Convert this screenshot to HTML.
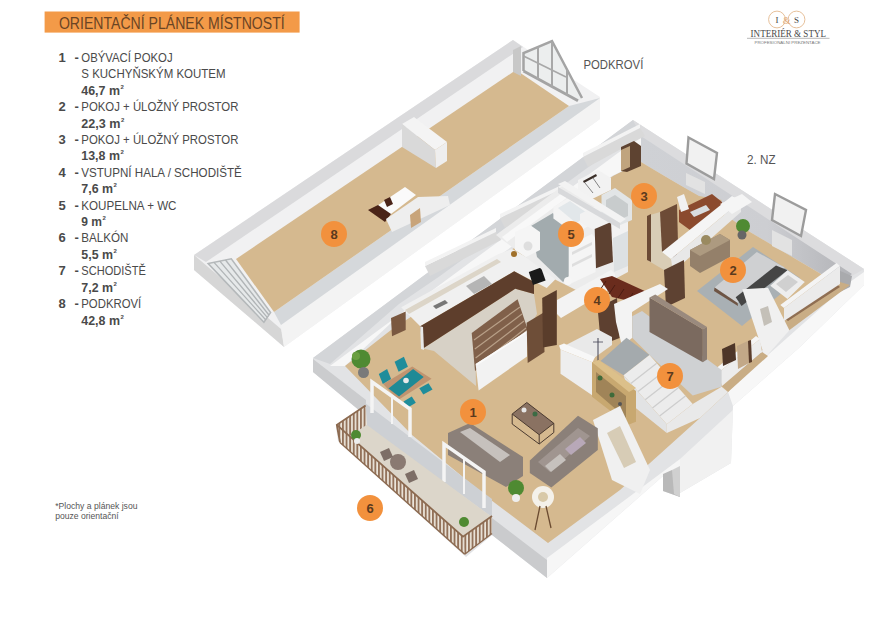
<!DOCTYPE html>
<html><head><meta charset="utf-8"><style>
html,body{margin:0;padding:0;background:#fff;width:894px;height:625px;overflow:hidden}
svg{display:block;font-family:"Liberation Sans",sans-serif}
</style></head><body>
<svg width="894" height="625" viewBox="0 0 894 625">
<rect width="894" height="625" fill="#fff"/>
<polygon points="194,255 513,40 600,97 600,119 284,347 194,270" fill="#f1f1f2" />
<polygon points="194,255 281,329 284,347 194,270" fill="#d6d6d6" />
<polygon points="194,255 513,40 523,47 206,262" fill="#dadadc" />
<polygon points="281,325 600,98 600,119 284,347" fill="#f3f3f3" />
<polygon points="274,312 569,106 600,98 281,325" fill="#d5d8db" />
<polygon points="236,259 516,70 569,106 274,312" fill="#d5b98f" />
<polygon points="208.2,263.6 231.3,258.8 270.6,312.6 263.9,322.2" fill="#e6e9ea" />
<polygon points="208.2,263.6 231.3,258.8 270.6,312.6 263.9,322.2" fill="none" stroke="#b4b8ba" stroke-width="1.5"/>
<line x1="214.0" y1="262.4" x2="265.6" y2="319.8" stroke="#b0b4b6" stroke-width="1.3"/>
<line x1="219.8" y1="261.2" x2="267.2" y2="317.4" stroke="#b0b4b6" stroke-width="1.3"/>
<line x1="225.5" y1="260.0" x2="268.9" y2="315.0" stroke="#b0b4b6" stroke-width="1.3"/>
<polygon points="513,50 521,46 521,76 513,72" fill="#c8c8c8" />
<polygon points="523,53 552,41 582,98 578,101 523,71" fill="#eceeee" />
<polyline points="523.5,71 523.5,53 552,41 582,98" fill="none" stroke="#a4a4a4" stroke-width="2.5"/>
<line x1="523.5" y1="71" x2="578" y2="100.7" stroke="#a4a4a4" stroke-width="3"/>
<line x1="523.5" y1="56" x2="566" y2="77" stroke="#a8a8a8" stroke-width="1.6"/>
<line x1="538" y1="47" x2="538" y2="78.9" stroke="#a8a8a8" stroke-width="2"/>
<line x1="552" y1="42" x2="552" y2="86.5" stroke="#a8a8a8" stroke-width="2"/>
<line x1="567" y1="70" x2="567" y2="94.7" stroke="#a8a8a8" stroke-width="2"/>
<polygon points="402,124 414,117 447,142 435,150" fill="#f4f4f4" />
<polygon points="402,124 435,150 436,168 402,147" fill="#d9d9d9" />
<polygon points="435,150 447,142 447,161 436,168" fill="#eeeeee" />
<polygon points="374,208 405,187 416,195 387,217" fill="#fafafa" />
<polygon points="368,210 378,205 391,214 385,222" fill="#4a2418" />
<polygon points="384,200 390,197 393,204 387,207" fill="#4a2418" />
<polygon points="386,219 418,197 448,196 450,205 392,232" fill="#eeeeee" />
<polygon points="410,215 420,208 421,222 411,228" fill="#c8a47a" />
<polygon points="313,358 633,120 864,269 864,285 800,347 733,406 731,463 680,493 680,497 663,491 663,476 547,578 492,535 466,557 338,441 336,427 366,416 313,372" fill="#e2e3e5" />
<polygon points="313,359 366,400 366,416 313,372" fill="#cbccce" />
<polygon points="492,518 547,560 547,578 492,535" fill="#cacbcd" />
<polygon points="547,558 680,459 680,493 663,491 663,476 547,578" fill="#f6f6f6" />
<polygon points="663,474 672,470 680,474 680,497 663,491" fill="#b9b9b9" />
<polygon points="672,470 680,466 680,497 674,494" fill="#d0d0d0" />
<polygon points="680,459 733,410 731,463 680,493" fill="#f1f1f1" />
<polygon points="733,406 800,347 864,285 864,272 850,282 760,362 728,392" fill="#f7f7f7" />
<polygon points="313,358 633,120 639,130 440,276 399,304 330,364" fill="#d3d5d8" />
<polygon points="330,366 641,136 641,162 612,176 500,255 391,323 345,366" fill="#f7f7f7" />
<polygon points="633,120 864,269 852,276 641,136" fill="#dcdcde" />
<defs><linearGradient id="brw" x1="641" y1="0" x2="852" y2="0" gradientUnits="userSpaceOnUse"><stop offset="0" stop-color="#cfd1d5"/><stop offset="0.6" stop-color="#cdced2"/><stop offset="1" stop-color="#b2b3b7"/></linearGradient></defs>
<polygon points="641,136 852,274 838,284 750,232 698,196 641,162" fill="url(#brw)" />
<polygon points="838,270 852,276 850,287 840,292" fill="#a9aaad" />
<polygon points="345,366 391,330 500,258 613,176 641,162 698,196 750,232 838,284 760,350 728,392 700,418 620,490 548,543 487,497 412,435" fill="#d5b98f" />
<polygon points="425,266 496,232 501,240 430,276" fill="#d9d9d9" />
<polygon points="425,262 496,228 496,232 425,266" fill="#f3f3f3" />
<polygon points="500,218 566,187 571,195 505,228" fill="#d9d9d9" />
<polygon points="500,214 566,183 566,187 500,218" fill="#f3f3f3" />
<polygon points="583,157 640,128 645,136 588,167" fill="#d9d9d9" />
<polygon points="583,153 640,124 640,128 583,157" fill="#f3f3f3" />
<polygon points="423,348.4 515.2,288.8 534,294 537,314 527,331 475.6,364 476,386 434,351" fill="#d7d1c6" />
<polygon points="401.2,307.2 497.5,254.6 512,249 559,275.8 546.7,288.1 514.2,271.3 420.2,326.2" fill="#f0f0f0" />
<polygon points="405,310 497,259 501,262 409,314" fill="#dcd5c8" />
<polygon points="420.2,326.2 514.2,271.3 534,282 534,294 515.2,288.8 423,348.4" fill="#5e3e2c" />
<polygon points="420.2,326.2 423,327 424,350 421,349" fill="#e8e8e8" />
<polygon points="466,286 484,276 492,284 474,294" fill="#b5b5b5" />
<polygon points="433,306 445,300 448,303 436,309" fill="#777" />
<polygon points="528.8,272 541,267.5 545.6,280.5 533,285" fill="#1a1a1a" />
<circle cx="514" cy="254" r="3" fill="#a0702a" />
<polygon points="471.7,332.9 517.6,299.3 527.7,329.5 475,371" fill="#80604a" />
<line x1="474.0" y1="340" x2="520" y2="307" stroke="#b8a088" stroke-width="1.2"/>
<line x1="474.8" y1="349" x2="522" y2="314" stroke="#b8a088" stroke-width="1.2"/>
<line x1="475.6" y1="358" x2="524" y2="321" stroke="#b8a088" stroke-width="1.2"/>
<line x1="476.4" y1="367" x2="526" y2="328" stroke="#b8a088" stroke-width="1.2"/>
<polygon points="475.6,364 527,331 527,356.4 478.6,390.6" fill="#f2f2f2" />
<polygon points="475.6,364 527,331 528.5,332 477,365.5" fill="#fafafa" />
<polygon points="391,318 405.7,311.6 405.7,330 392,336.3" fill="#7a5840" />
<polygon points="526.6,322.8 543.3,312.8 544.5,352 527.7,363.1" fill="#6e4e38" />
<polygon points="542.2,298 556.8,290 556.8,345 543,347.5" fill="#5a3d2b" />
<polygon points="496,235 565,184 628,222 628,272 613,280 580,292 556,280" fill="#ececec" />
<polygon points="502,237 565,191 568,197 507,242" fill="#f8f8f8" />
<polygon points="531,226 553,213 580,246 570,250 569,276 563,282 537,257" fill="#a2abae" />
<polygon points="553.4,206.9 570.7,196.3 595.6,214.6 595.6,222 574.5,234 553.4,218.4" fill="#f4f4f4" />
<polygon points="558,208 570,201 590,215 576,223" fill="#e2e7ea" />
<polygon points="580,214 598,205 628,222 628,232 610,240 580,222" fill="#f2f2f2" />
<polygon points="604,219 614,214 620,218 610,223" fill="#d8dadb" />
<polygon points="515,232 530,225 540,232 540,250 526,257 515,250" fill="#f5f5f5" />
<circle cx="528" cy="246" r="4.5" fill="#dedede" />
<polygon points="568.7,245 592,234 595.6,238 595.6,272 572,283 568.7,278" fill="#f5f5f5" />
<polygon points="572,252 592,242 592,245 572,255" fill="#dedede" />
<polygon points="572,264 592,254 592,257 572,267" fill="#dedede" />
<polygon points="594.7,229 611,222 613,262 596,268.3" fill="#5d4131" />
<polygon points="613,238 628,231 628,266 614,272" fill="#dde1e3" />
<circle cx="568" cy="281" r="4" fill="#f6f6f6" />
<polygon points="613,176.5 640,163 699,196 722,200 664,256 648,250 640,222 632,200 615,190" fill="#d5b98f" />
<polygon points="621,147 634,141 641,146 641,166 627,172 621,171" fill="#5e4331" />
<polygon points="621,150 630,146 630,167 621,171" fill="#c0a47e" />
<polygon points="578,180 598,170 611,178 611,190 592,199 578,191" fill="#f2f2f2" />
<polygon points="583,181 596,174 597,176 584,183" fill="#3a2e28" />
<line x1="585" y1="183" x2="593" y2="193" stroke="#666" stroke-width="0.8"/><line x1="593" y1="178" x2="600" y2="188" stroke="#666" stroke-width="0.8"/>
<polygon points="601.5,195 615,188 632,200 632,220 618,226 601.5,214" fill="#e2e5e6" />
<polygon points="606,200 615,195 628,204 628,216 619,220 606,211" fill="#c8cccd" />
<polygon points="558,184 565,181 626,219 620,223" fill="#f3f3f3" />
<polygon points="558,187 620,223 620,229 558,193" fill="#d8d9db" />
<polygon points="679,210 712,194 722,202 722,214 690,230 679,222" fill="#8b4a2e" />
<polygon points="690,212 706,205 710,210 694,217" fill="#d9dde0" />
<polygon points="677,197 684,194 689,209 681,212" fill="#f1f1f1" />
<polygon points="688,137 717,153 714,179 686,163" fill="#f1f1f1" />
<polygon points="688.5,137.5 717,153 714,179 686.5,163.5" fill="none" stroke="#9c9c9c" stroke-width="2.4"/>
<polygon points="686,173 705,182 705,194 686,185" fill="#e2e2e2" />
<polygon points="647,216 660,212 677,222 677,265 664,270 647,260" fill="#d9cdb6" />
<polygon points="647,216 651,214 651,262 647,260" fill="#6b4a35" />
<polygon points="673,222 677,222 677,265 673,266" fill="#6b4a35" />
<polygon points="660,212 677,204 678,244 662,252" fill="#6d4b36" />
<polygon points="662,252 732,196 741,201 671,259" fill="#f5f5f5" />
<polygon points="671,259 741,201 741,212 673,272" fill="#e8e8e8" />
<polygon points="720,204 742,194 752,202 732,214" fill="#f5f5f5" />
<polygon points="775,194 806,210 801,236 772,220" fill="#f1f1f1" />
<polygon points="775,194 806,210 801,236 772,220" fill="none" stroke="#9c9c9c" stroke-width="2.4"/>
<polygon points="772,230 792,240 792,256 772,246" fill="#e2e2e2" />
<polygon points="697,291 753,247 800,278 742,326" fill="#a9b0b4" />
<polygon points="714.6,287.6 756.8,252 784.7,267.4 737.6,303" fill="#cfd0d2" />
<polygon points="735.7,297.2 776,265.5 787.5,270.3 741.5,305.9" fill="#454545" />
<polygon points="714.6,287.6 737.6,303 738,306 714,291" fill="#6e5444" />
<polygon points="770.3,285.7 787.5,270.3 804.8,281.9 787.5,299" fill="#eeeeee" />
<polygon points="776,284 788,275 798,282 786,292" fill="#d0d0d0" />
<polygon points="690,250 720,234 730,240 730,257 700,273 690,266" fill="#94806a" />
<polygon points="690,250 720,234 730,240 700,256" fill="#ad9a80" />
<circle cx="706" cy="240" r="5" fill="#9a8a60" />
<circle cx="743" cy="226" r="7" fill="#4f8a32" />
<circle cx="742" cy="235" r="4.5" fill="#666" />
<polygon points="780,321 840,282 850,285 760,352 728,382 724,376" fill="#c9ad85" />
<polygon points="784,318 836.5,284 840,287 788,321" fill="#8f6e52" />
<polygon points="728.6,382 759,351.6 762,354 731,385" fill="#a08060" />
<polygon points="780.3,305 836.5,263 840,266 784,308" fill="#f4f4f4" />
<polygon points="784,308 840,266 840,284 784,321" fill="#ebebeb" />
<polygon points="664,270 684,260 685,298 666,307" fill="#5e4232" />
<polygon points="742.3,289.3 768,287.8 789.4,330.3 765,357.7" fill="#f0f0f0" />
<polygon points="760,309 768,306 772,322 764,326" fill="#c4c0b8" />
<polygon points="722,386 762,352 768,356 728,392" fill="#c9ad85" />
<polygon points="714,370 756,336 760,339 718,373" fill="#f5f5f5" />
<polygon points="718,373 760,339 762,352 722,386" fill="#ececec" />
<polygon points="722,349 735,343 736,360 723,366" fill="#4e3628" />
<polygon points="737,346 750,340 751,362 738,369" fill="#c2a888" />
<polygon points="748,341 751,340 752,362 749,363" fill="#5a3d2c" />
<polygon points="557,300 611,270 615,274 615,286 561,318 557,314" fill="#f3f3f3" />
<polygon points="600,279 612,276 649,293 634,302 612,297" fill="#6a2c1d" />
<line x1="606" y1="281" x2="600" y2="290" stroke="#4a1c12" stroke-width="1"/>
<line x1="615" y1="285" x2="609" y2="294" stroke="#4a1c12" stroke-width="1"/>
<line x1="624" y1="289" x2="618" y2="298" stroke="#4a1c12" stroke-width="1"/>
<line x1="633" y1="293" x2="627" y2="302" stroke="#4a1c12" stroke-width="1"/>
<polygon points="597.6,308 617,298 619.7,338 601,345" fill="#5d4030" />
<polygon points="614,304 660,284 668,289 632,312 632,338 622,346 616,322" fill="#f3f3f3" />
<polygon points="632.2,316.2 642,311 721.6,370 721.6,386.8 692.7,395.4 649.5,355.1 632.2,337.8" fill="#cfd1d3" />
<polygon points="600.5,360.9 626.5,337.8 649.5,355.1 623.6,375.3" fill="#a4aaad" />
<polygon points="623.6,375.3 649.5,355.1 692.7,404 666.8,424.3" fill="#ececec" />
<line x1="630.8" y1="383.5" x2="656.7" y2="363.2" stroke="#cdcdcd" stroke-width="1.3"/>
<line x1="638.0" y1="391.6" x2="663.9" y2="371.4" stroke="#cdcdcd" stroke-width="1.3"/>
<line x1="645.2" y1="399.8" x2="671.1" y2="379.6" stroke="#cdcdcd" stroke-width="1.3"/>
<line x1="652.4" y1="408.0" x2="678.3" y2="387.7" stroke="#cdcdcd" stroke-width="1.3"/>
<line x1="659.6" y1="416.1" x2="685.5" y2="395.9" stroke="#cdcdcd" stroke-width="1.3"/>
<polygon points="623.6,375.3 666.8,424.3 666.8,433 632,405 628,390" fill="#e2e3e4" />
<polygon points="692.7,404 721.6,386.8 728,392 700,418 666.8,433 666.8,424.3" fill="#e9e9e9" />
<polygon points="649.5,297.5 702.8,329.2 702.8,362.3 649.5,332" fill="#7b6a5f" />
<polygon points="649.5,297.5 655.3,294.6 707,326.9 702.8,329.2" fill="#9a8a7e" />
<polygon points="702.8,329.2 707,326.9 707,359.4 702.8,362.3" fill="#8c7d72" />
<polygon points="566,345 597,329 612,337 612,345 594,358" fill="#e9e9e9" />
<polygon points="560.5,349.4 592.5,362.2 592.5,395.5 560.5,373.8" fill="#eeeeee" />
<polygon points="559,345.5 564,343.5 595,357 592.5,362.2 560.5,349.4" fill="#f7f7f7" />
<line x1="598" y1="338" x2="598" y2="362" stroke="#445" stroke-width="1"/><line x1="593" y1="342" x2="603" y2="342" stroke="#445" stroke-width="0.8"/>
<polygon points="592,362.3 599,360 636,391 636,421.8 628.4,424.7 592,396.8" fill="#c8a870" />
<polygon points="592,362.3 599,360 636,388 629,392" fill="#dcc08a" />
<polygon points="596,372 626,396 626,418 596,392" fill="#a08458" />
<circle cx="600" cy="378" r="2.5" fill="#3f6b3a" />
<circle cx="612" cy="395" r="2.5" fill="#3f6b3a" />
<circle cx="620" cy="404" r="2" fill="#555" />
<polygon points="593,420 620,406 650,470 640,494 612,480" fill="#f0f0f0" />
<polygon points="607,433 620,426 636,462 624,468" fill="#d7ccb6" />
<polygon points="383.2,384 412.3,366.4 431.6,378.8 398.2,400" fill="#c09470" />
<polygon points="388.5,388.5 413.1,369.1 423.7,377 399,396.4" fill="#1e8a96" />
<circle cx="406" cy="380.5" r="2.8" fill="#e8eaea" />
<polygon points="378.8,374 387.1,369 391.1,379 382.8,384" fill="#1f8d9b" />
<polygon points="394.6,361.8 403.9,356.8 407.9,366.7 398.6,371.7" fill="#1f8d9b" />
<polygon points="419.3,388.2 428.5,383.2 432.5,389.6 423.3,394.6" fill="#1f8d9b" />
<polygon points="403.5,401.4 411.8,396.4 415.8,402.8 407.5,407.8" fill="#1f8d9b" />
<circle cx="361" cy="359" r="9.5" fill="#4f8a32" />
<circle cx="356" cy="356" r="4" fill="#6aa040" />
<circle cx="363.5" cy="372.5" r="5.5" fill="#7a7a7a" />
<polygon points="448,433 470,423 523,457 523,476 506,487 448,455" fill="#8b8079" />
<polygon points="460,432 470,428 510,455 500,462" fill="#c6c1bd" />
<polygon points="529.8,460.5 578,415.8 597.8,428.3 597.8,450 551.3,487.4 529.8,473" fill="#8b8079" />
<polygon points="538,462 578,428 590,436 550,472" fill="#a09590" />
<polygon points="545,466 560,454 566,460 551,472" fill="#c6c1bd" />
<polygon points="565,449 580,437 586,443 571,455" fill="#b8a8b8" />
<polygon points="512.2,414 526.8,402.5 553.8,423.3 539.2,434.7" fill="#8a7262" />
<polyline points="512.2,414 512.2,424 539.2,444 539.2,434.7" fill="none" stroke="#4a3a30" stroke-width="1"/><polyline points="539.2,444 553.8,432.5 553.8,423.3" fill="none" stroke="#4a3a30" stroke-width="1"/>
<circle cx="524" cy="410" r="2.5" fill="#e6e6e6" />
<circle cx="535" cy="414" r="2.5" fill="#3c6b44" />
<polygon points="512.2,414 526.8,402.5 553.8,423.3 539.2,434.7" fill="none" stroke="#4a3a30" stroke-width="1"/>
<circle cx="543" cy="497" r="11" fill="#f4f1ea" />
<circle cx="543" cy="497" r="5" fill="#d8c9a8" />
<line x1="540" y1="506" x2="535" y2="530" stroke="#6a4a30" stroke-width="1.3"/><line x1="546" y1="506" x2="551" y2="528" stroke="#6a4a30" stroke-width="1.3"/>
<circle cx="516" cy="488" r="8" fill="#4f8a32" />
<circle cx="516" cy="498" r="4" fill="#eee" />
<polygon points="365,403 492,499 492,517 365.8,426" fill="#cdd0d4" />
<polyline points="372,413 372,382 410,409 410,437" fill="none" stroke="#f4f4f4" stroke-width="3.5"/>
<polyline points="444,482 444,444 484,472 484,508" fill="none" stroke="#f4f4f4" stroke-width="3.5"/>
<line x1="392" y1="396" x2="392" y2="424" stroke="#f4f4f4" stroke-width="2"/><line x1="464" y1="458" x2="464" y2="494" stroke="#f4f4f4" stroke-width="2"/>
<polygon points="340,442 367,425 492,517 464.7,554.3" fill="#dcd6ca" />
<defs><pattern id="sl" width="3.6" height="40" patternUnits="userSpaceOnUse"><rect width="3.6" height="40" fill="#ece6dc"/><rect width="1.9" height="40" fill="#93725a"/></pattern></defs>
<polygon points="336.8,424.8 365.6,405.6 367,424.8 340,442.4" fill="url(#sl)" />
<polygon points="336.8,424.8 463,536.7 464.7,554.3 340,442.4" fill="url(#sl)" />
<polygon points="463,536.7 492,515.9 492,533.5 464.7,554.3" fill="url(#sl)" />
<polyline points="340,442.4 336.8,424.8 365.6,405.6" fill="none" stroke="#8c6a50" stroke-width="1.8"/>
<polyline points="336.8,424.8 463,536.7 492,515.9" fill="none" stroke="#8c6a50" stroke-width="1.8"/>
<line x1="340" y1="442.4" x2="464.7" y2="554.3" stroke="#8c6a50" stroke-width="1.4"/><line x1="464.7" y1="554.3" x2="492" y2="533.5" stroke="#8c6a50" stroke-width="1.4"/>
<circle cx="398" cy="462" r="8" fill="#8a7a72" />
<polygon points="380,452 389,448 393,457 384,461" fill="#7d6e66" />
<polygon points="405,474 414,470 418,479 409,483" fill="#7d6e66" />
<circle cx="356" cy="435" r="5" fill="#4f8a32" />
<circle cx="357" cy="441" r="3" fill="#eee" />
<circle cx="464" cy="522" r="5" fill="#4f8a32" />
<circle cx="334" cy="234" r="13" fill="#f2913d" /><text x="334" y="238.5" font-size="13" font-weight="bold" fill="#5b3a1e" text-anchor="middle">8</text>
<circle cx="644" cy="196" r="13" fill="#f2913d" /><text x="644" y="200.5" font-size="13" font-weight="bold" fill="#5b3a1e" text-anchor="middle">3</text>
<circle cx="571" cy="234" r="13" fill="#f2913d" /><text x="571" y="238.5" font-size="13" font-weight="bold" fill="#5b3a1e" text-anchor="middle">5</text>
<circle cx="733" cy="270" r="13" fill="#f2913d" /><text x="733" y="274.5" font-size="13" font-weight="bold" fill="#5b3a1e" text-anchor="middle">2</text>
<circle cx="597" cy="300" r="13" fill="#f2913d" /><text x="597" y="304.5" font-size="13" font-weight="bold" fill="#5b3a1e" text-anchor="middle">4</text>
<circle cx="670" cy="376" r="13" fill="#f2913d" /><text x="670" y="380.5" font-size="13" font-weight="bold" fill="#5b3a1e" text-anchor="middle">7</text>
<circle cx="473" cy="412" r="13" fill="#f2913d" /><text x="473" y="416.5" font-size="13" font-weight="bold" fill="#5b3a1e" text-anchor="middle">1</text>
<circle cx="370" cy="508" r="13" fill="#f2913d" /><text x="370" y="512.5" font-size="13" font-weight="bold" fill="#5b3a1e" text-anchor="middle">6</text>
<rect x="44.6" y="11.5" width="255" height="21.1" fill="#f39a48"/>
<text x="58.9" y="28.6" font-size="15.6" fill="#6a4424" textLength="225.8" lengthAdjust="spacingAndGlyphs">ORIENTAČNÍ PLÁNEK MÍSTNOSTÍ</text>
<text x="58.5" y="61.8" font-size="13" font-weight="bold" fill="#4a4a4a">1</text>
<text x="74.5" y="61.8" font-size="13" font-weight="bold" fill="#4a4a4a">-</text>
<text x="81.3" y="61.8" font-size="13" fill="#4a4a4a" textLength="91.3" lengthAdjust="spacingAndGlyphs">OBÝVACÍ POKOJ</text>
<text x="81.3" y="78.2" font-size="13" fill="#4a4a4a" textLength="144.3" lengthAdjust="spacingAndGlyphs">S KUCHYŇSKÝM KOUTEM</text>
<text x="81.3" y="94.6" font-size="13" font-weight="bold" fill="#4a4a4a" textLength="38.7" lengthAdjust="spacingAndGlyphs">46,7 m</text>
<text x="120.5" y="88.6" font-size="6" font-weight="bold" fill="#4a4a4a">2</text>
<text x="58.5" y="111.1" font-size="13" font-weight="bold" fill="#4a4a4a">2</text>
<text x="74.5" y="111.1" font-size="13" font-weight="bold" fill="#4a4a4a">-</text>
<text x="81.3" y="111.1" font-size="13" fill="#4a4a4a" textLength="157.1" lengthAdjust="spacingAndGlyphs">POKOJ + ÚLOŽNÝ PROSTOR</text>
<text x="81.3" y="127.5" font-size="13" font-weight="bold" fill="#4a4a4a" textLength="39.2" lengthAdjust="spacingAndGlyphs">22,3 m</text>
<text x="121.0" y="121.5" font-size="6" font-weight="bold" fill="#4a4a4a">2</text>
<text x="58.5" y="143.9" font-size="13" font-weight="bold" fill="#4a4a4a">3</text>
<text x="74.5" y="143.9" font-size="13" font-weight="bold" fill="#4a4a4a">-</text>
<text x="81.3" y="143.9" font-size="13" fill="#4a4a4a" textLength="157.1" lengthAdjust="spacingAndGlyphs">POKOJ + ÚLOŽNÝ PROSTOR</text>
<text x="81.3" y="160.3" font-size="13" font-weight="bold" fill="#4a4a4a" textLength="38.7" lengthAdjust="spacingAndGlyphs">13,8 m</text>
<text x="120.5" y="154.3" font-size="6" font-weight="bold" fill="#4a4a4a">2</text>
<text x="58.5" y="176.7" font-size="13" font-weight="bold" fill="#4a4a4a">4</text>
<text x="74.5" y="176.7" font-size="13" font-weight="bold" fill="#4a4a4a">-</text>
<text x="81.3" y="176.7" font-size="13" fill="#4a4a4a" textLength="160.5" lengthAdjust="spacingAndGlyphs">VSTUPNÍ HALA / SCHODIŠTĚ</text>
<text x="81.3" y="193.2" font-size="13" font-weight="bold" fill="#4a4a4a" textLength="31.7" lengthAdjust="spacingAndGlyphs">7,6 m</text>
<text x="113.5" y="187.2" font-size="6" font-weight="bold" fill="#4a4a4a">2</text>
<text x="58.5" y="209.6" font-size="13" font-weight="bold" fill="#4a4a4a">5</text>
<text x="74.5" y="209.6" font-size="13" font-weight="bold" fill="#4a4a4a">-</text>
<text x="81.3" y="209.6" font-size="13" fill="#4a4a4a" textLength="95.2" lengthAdjust="spacingAndGlyphs">KOUPELNA + WC</text>
<text x="81.3" y="226.0" font-size="13" font-weight="bold" fill="#4a4a4a" textLength="20.7" lengthAdjust="spacingAndGlyphs">9 m</text>
<text x="102.5" y="220.0" font-size="6" font-weight="bold" fill="#4a4a4a">2</text>
<text x="58.5" y="242.4" font-size="13" font-weight="bold" fill="#4a4a4a">6</text>
<text x="74.5" y="242.4" font-size="13" font-weight="bold" fill="#4a4a4a">-</text>
<text x="81.3" y="242.4" font-size="13" fill="#4a4a4a" textLength="47.1" lengthAdjust="spacingAndGlyphs">BALKÓN</text>
<text x="81.3" y="258.8" font-size="13" font-weight="bold" fill="#4a4a4a" textLength="31.7" lengthAdjust="spacingAndGlyphs">5,5 m</text>
<text x="113.5" y="252.8" font-size="6" font-weight="bold" fill="#4a4a4a">2</text>
<text x="58.5" y="275.3" font-size="13" font-weight="bold" fill="#4a4a4a">7</text>
<text x="74.5" y="275.3" font-size="13" font-weight="bold" fill="#4a4a4a">-</text>
<text x="81.3" y="275.3" font-size="13" fill="#4a4a4a" textLength="64.5" lengthAdjust="spacingAndGlyphs">SCHODIŠTĚ</text>
<text x="81.3" y="291.7" font-size="13" font-weight="bold" fill="#4a4a4a" textLength="31.7" lengthAdjust="spacingAndGlyphs">7,2 m</text>
<text x="113.5" y="285.7" font-size="6" font-weight="bold" fill="#4a4a4a">2</text>
<text x="58.5" y="308.1" font-size="13" font-weight="bold" fill="#4a4a4a">8</text>
<text x="74.5" y="308.1" font-size="13" font-weight="bold" fill="#4a4a4a">-</text>
<text x="81.3" y="308.1" font-size="13" fill="#4a4a4a" textLength="59.9" lengthAdjust="spacingAndGlyphs">PODKROVÍ</text>
<text x="81.3" y="324.5" font-size="13" font-weight="bold" fill="#4a4a4a" textLength="38.7" lengthAdjust="spacingAndGlyphs">42,8 m</text>
<text x="120.5" y="318.5" font-size="6" font-weight="bold" fill="#4a4a4a">2</text>
<text x="55.2" y="508.8" font-size="9" fill="#555" textLength="82.3" lengthAdjust="spacingAndGlyphs">*Plochy  a plánek jsou</text>
<text x="55.2" y="518.6" font-size="9" fill="#555" textLength="63.5" lengthAdjust="spacingAndGlyphs">pouze orientační</text>
<text x="583.4" y="69" font-size="13" fill="#555" textLength="59.9" lengthAdjust="spacingAndGlyphs">PODKROVÍ</text>
<text x="747.1" y="163.5" font-size="13" fill="#555" textLength="28.5" lengthAdjust="spacingAndGlyphs">2. NZ</text>
<circle cx="777" cy="19.5" r="8.4" fill="none" stroke="#e3b98f" stroke-width="0.9"/>
<circle cx="796.5" cy="19.5" r="8.4" fill="none" stroke="#e3b98f" stroke-width="0.9"/>
<text x="777" y="23" font-size="9" font-family="Liberation Serif, serif" fill="#444" text-anchor="middle">I</text>
<text x="796.5" y="23" font-size="9" font-family="Liberation Serif, serif" fill="#444" text-anchor="middle">S</text>
<text x="786.7" y="23.5" font-size="10" font-family="Liberation Serif, serif" fill="#e0a878" text-anchor="middle">&amp;</text>
<text x="750.6" y="36.9" font-size="9.3" font-family="Liberation Serif, serif" fill="#4a4a4a" textLength="75.4" lengthAdjust="spacingAndGlyphs">INTERIÉR &amp; STYL</text>
<line x1="747" y1="38.3" x2="829.5" y2="38.3" stroke="#888" stroke-width="0.6"/>
<text x="754.5" y="43.6" font-size="4" fill="#777" textLength="66" lengthAdjust="spacingAndGlyphs">PROFESIONÁLNÍ PREZENTACE</text>
</svg></body></html>
